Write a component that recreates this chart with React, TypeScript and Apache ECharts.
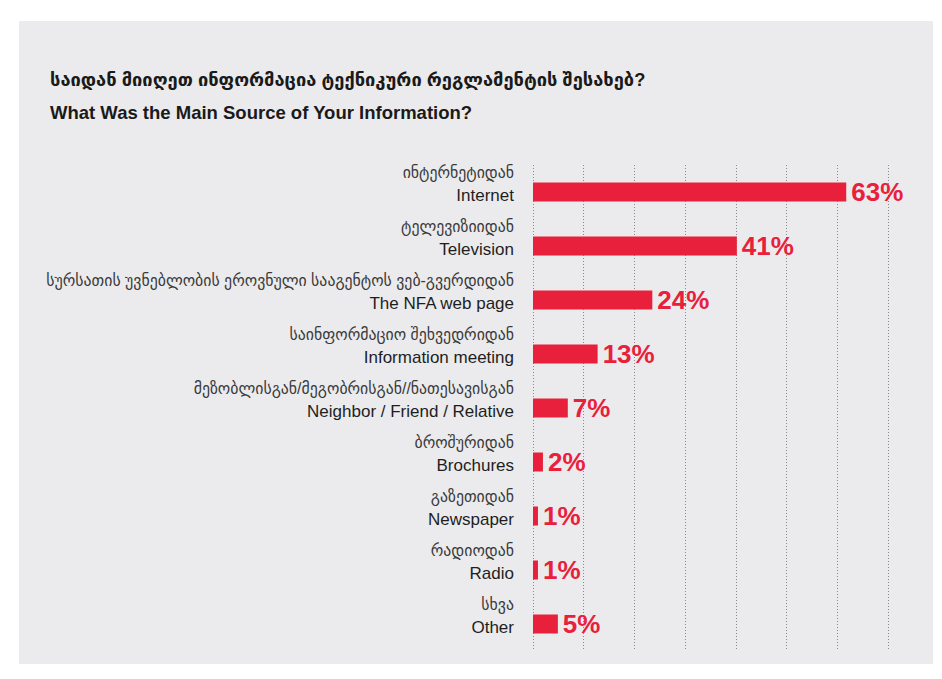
import React, { useEffect, useRef } from "react";
import * as echarts from "echarts";

const titleKa = "საიდან მიიღეთ ინფორმაცია ტექნიკური რეგლამენტის შესახებ?";
const titleEn = "What Was the Main Source of Your Information?";
const categoriesKa = [
  "ინტერნეტიდან",
  "ტელევიზიიდან",
  "სურსათის უვნებლობის ეროვნული სააგენტოს ვებ-გვერდიდან",
  "საინფორმაციო შეხვედრიდან",
  "მეზობლისგან/მეგობრისგან//ნათესავისგან",
  "ბროშურიდან",
  "გაზეთიდან",
  "რადიოდან",
  "სხვა",
];
const categoriesEn = [
  "Internet",
  "Television",
  "The NFA web page",
  "Information meeting",
  "Neighbor / Friend / Relative",
  "Brochures",
  "Newspaper",
  "Radio",
  "Other",
];
const values = [63, 41, 24, 13, 7, 2, 1, 1, 5];

const RED = "#e9203b";
const FONT = "'Liberation Sans', Arial, 'DejaVu Sans', sans-serif";

export default function App() {
  const ref = useRef<HTMLDivElement>(null);
  useEffect(() => {
    if (!ref.current) return;
    const chart = echarts.init(ref.current, null, { renderer: "svg" });
    chart.setOption({
      animation: false,
      backgroundColor: "#ffffff",
      textStyle: { fontFamily: FONT },
      graphic: [
        { type: "rect", shape: { x: 0, y: 0, width: 942, height: 5 }, style: { fill: "#f3f3f3" }, z: -10 },
        { type: "rect", shape: { x: 19, y: 21, width: 914, height: 643 }, style: { fill: "#ebebed" }, z: -10 },
        {
          type: "text",
          left: 50,
          top: 70,
          style: { text: titleKa, fontSize: 18.3, fontWeight: "bold", fill: "#1a1a1a", fontFamily: FONT },
        },
        {
          type: "text",
          left: 50,
          top: 103,
          style: { text: titleEn, fontSize: 18.5, fontWeight: "bold", fill: "#1a1a1a", fontFamily: FONT },
        },
      ],
      grid: { left: 533, right: 54, top: 165, bottom: 28, containLabel: false },
      xAxis: {
        type: "value",
        min: 0,
        max: 71.4,
        interval: 10.2,
        axisLabel: { show: false },
        axisLine: { show: false },
        axisTick: { show: false },
        splitLine: { show: true, lineStyle: { color: "#8a8a8a", type: [1, 2], width: 1 } },
      },
      yAxis: {
        type: "category",
        inverse: true,
        data: categoriesEn,
        axisLine: { show: false },
        axisTick: { show: false },
        axisLabel: {
          interval: 0,
          margin: 19,
          align: "right",
          formatter: (_v: string, i: number) => `{ka|${categoriesKa[i]}}\n{en|${categoriesEn[i]}}\n{gap| }`,
          rich: {
            ka: { fontSize: 15.8, color: "#3a3a3a", lineHeight: 23, align: "right", fontFamily: FONT },
            en: { fontSize: 17, color: "#1e1e1e", lineHeight: 23, align: "right", fontFamily: FONT },
            gap: { fontSize: 10, lineHeight: 16, align: "right" },
          },
        },
      },
      series: [
        {
          type: "bar",
          data: values,
          barWidth: 19,
          itemStyle: { color: RED },
          label: {
            show: true,
            position: "right",
            distance: 5,
            formatter: "{c}%",
            color: RED,
            fontSize: 26,
            fontWeight: "bold",
            fontFamily: FONT,
          },
        },
      ],
    });
    return () => chart.dispose();
  }, []);
  return (
    <div style={{ margin: -8 }}>
      <div ref={ref} style={{ width: 942, height: 679 }} />
    </div>
  );
}
